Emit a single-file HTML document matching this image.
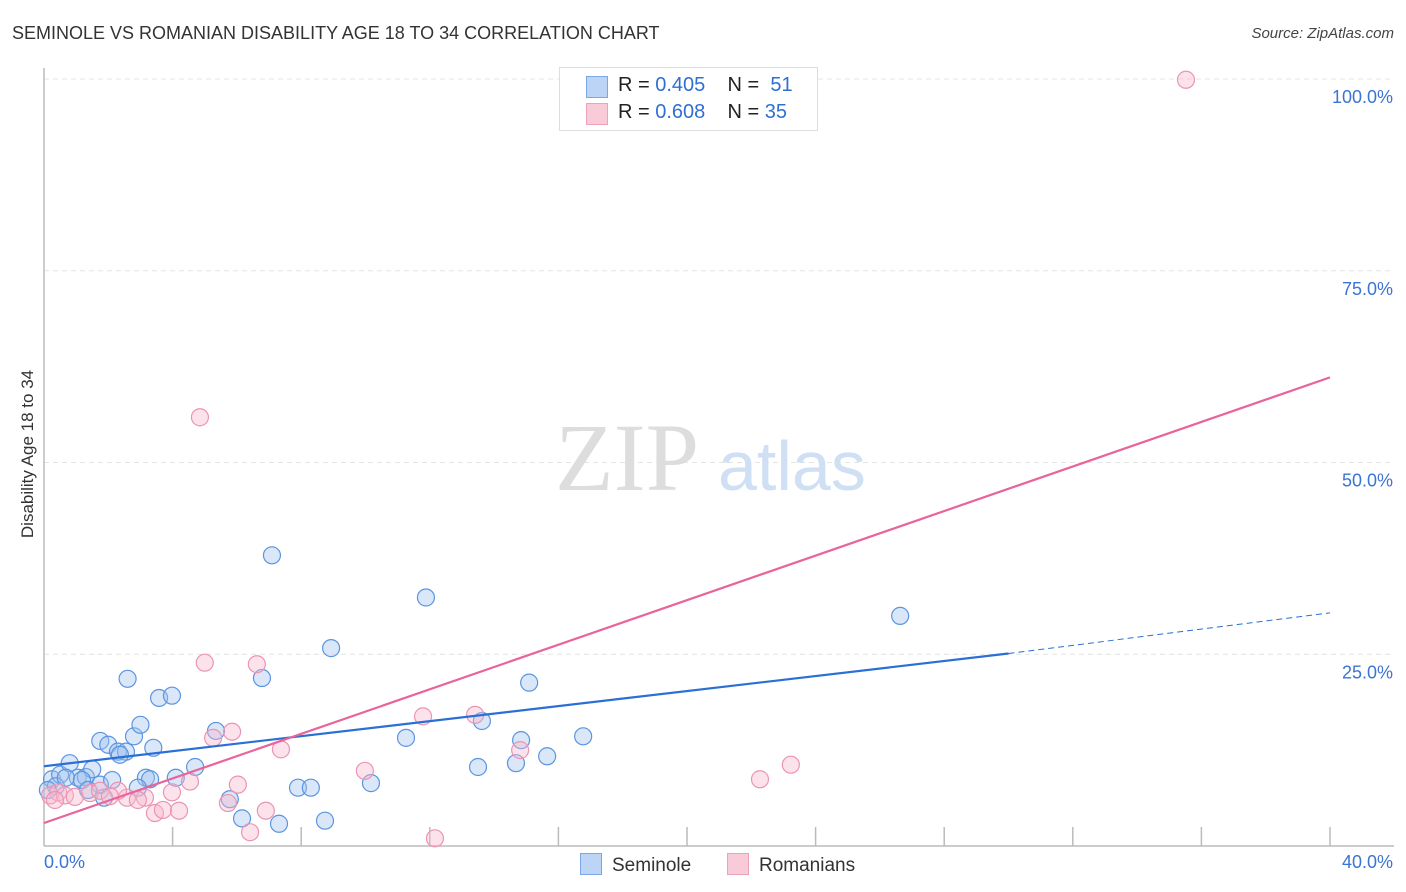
<!DOCTYPE html>
<html><head><meta charset="utf-8"><style>
body{margin:0;background:#fff;font-family:"Liberation Sans",sans-serif;}
#wrap{position:relative;width:1406px;height:892px;overflow:hidden}
.t{position:absolute;white-space:nowrap}
</style></head><body>
<div id="wrap">
<div class="t" style="left:12px;top:23px;font-size:18px;color:#333">SEMINOLE VS ROMANIAN DISABILITY AGE 18 TO 34 CORRELATION CHART</div>
<div class="t" style="right:12px;top:25px;font-size:15px;color:#444;font-style:italic">Source: ZipAtlas.com</div>
<div class="t" style="left:-62px;top:444px;font-size:17px;color:#333;transform:rotate(-90deg);width:180px;text-align:center">Disability Age 18 to 34</div>
<svg id="svg" width="1406" height="892" style="position:absolute;left:0;top:0"></svg>
</div>
<script>
const seminoleX=[0.25,0.5,0.8,1.05,1.3,1.5,1.75,2.0,2.3,2.55,2.6,2.8,3.0,3.17,3.3,3.4,3.58,3.98,4.1,4.7,5.35,5.78,6.16,6.78,7.09,7.31,7.9,8.3,8.74,8.93,10.17,11.26,11.88,13.5,13.62,14.68,14.84,15.09,15.65,16.77,26.63,1.87,2.92,0.37,0.68,1.18,0.12,1.74,2.12,2.36,1.37];
const seminoleY=[8.7,9.3,10.8,8.9,9.0,10.0,13.7,13.2,12.3,12.3,21.8,14.3,15.8,8.9,8.7,12.8,19.3,19.6,8.9,10.3,15.0,6.1,3.6,21.9,37.9,2.9,7.6,7.6,3.3,25.8,8.2,14.1,32.4,10.3,16.3,10.8,13.8,21.3,11.7,14.3,30.0,6.3,7.6,7.8,8.9,8.6,7.3,8.0,8.6,11.9,7.3];
const romX=[35.52,4.85,5.0,6.62,5.85,5.26,7.37,11.79,13.41,14.81,9.98,6.03,4.54,3.98,3.14,2.58,2.92,3.45,3.7,4.2,5.72,6.41,6.9,12.16,22.27,23.23,0.19,0.44,0.65,0.96,1.43,1.74,2.3,2.05,0.34];
const romY=[99.9,55.9,23.9,23.7,14.9,14.1,12.6,16.9,17.1,12.5,9.8,8.0,8.4,7.0,6.3,6.3,6.0,4.3,4.7,4.6,5.6,1.8,4.6,1.0,8.7,10.6,6.6,7.0,6.6,6.4,6.9,7.2,7.2,6.5,6.0];
const blueLine=[[0,10.4],[30.0,25.1]], blueDash=[[30.0,25.1],[40,30.4]], pinkLine=[[0,3.0],[40,61.1]];
const yTicks=[25,50,75,100], yTickLabels=["25.0%","50.0%","75.0%","100.0%"];
const X=v=>44+v*32.15, Y=v=>846-v*7.67;
const svg=document.getElementById('svg'), NS='http://www.w3.org/2000/svg';
function mk(tag,a,parent){const e=document.createElementNS(NS,tag);for(const k in a)e.setAttribute(k,a[k]);(parent||svg).appendChild(e);return e;}
yTicks.forEach((t,i)=>{
 const g=mk('line',{x1:44,x2:1394,y1:Y(t),y2:Y(t),stroke:'#e4e4e4','stroke-dasharray':'5,4'});
 
 
 const tx=mk('text',{x:1393,y:Y(t)+24,'text-anchor':'end','font-size':18,fill:'#3b74d4','font-family':'Liberation Sans'});
 tx.textContent=yTickLabels[i];
 
 
});
let ax=mk('line',{x1:44,x2:44,y1:68,y2:846,stroke:'#bbb','stroke-width':1.5});


ax=mk('line',{x1:44,x2:1394,y1:846,y2:846,stroke:'#bbb','stroke-width':1.5});


for(let i=1;i<=10;i++){const tk=mk('line',{x1:X(i*4),x2:X(i*4),y1:827,y2:846,stroke:'#bbb','stroke-width':1.5});
 
 }
let wm=mk('text',{x:555,y:490,'font-size':96,fill:'#ddd','font-family':'Liberation Serif'});wm.textContent='ZIP';


wm=mk('text',{x:718,y:490,'font-size':70,fill:'#cfe0f5','font-family':'Liberation Sans'});wm.textContent='atlas';


seminoleX.forEach((v,i)=>{const c=mk('circle',{cx:X(v),cy:Y(seminoleY[i]),r:8.5,fill:'rgba(160,196,240,0.4)',stroke:'#5b95e0','stroke-width':1.2});
 
 });
romX.forEach((v,i)=>{const c=mk('circle',{cx:X(v),cy:Y(romY[i]),r:8.5,fill:'rgba(248,185,205,0.4)',stroke:'#ec94b2','stroke-width':1.2});
 
 });
let l=mk('line',{x1:X(blueLine[0][0]),y1:Y(blueLine[0][1]),x2:X(blueLine[1][0]),y2:Y(blueLine[1][1]),stroke:'#2a6fd6','stroke-width':2.2});


l=mk('line',{x1:X(blueDash[0][0]),y1:Y(blueDash[0][1]),x2:X(blueDash[1][0]),y2:Y(blueDash[1][1]),stroke:'#2a6fd6','stroke-width':1,'stroke-dasharray':'6,4'});


l=mk('line',{x1:X(pinkLine[0][0]),y1:Y(pinkLine[0][1]),x2:X(pinkLine[1][0]),y2:Y(pinkLine[1][1]),stroke:'#e8649a','stroke-width':2.2});


</script>
<div class="t" style="left:44px;top:852px;font-size:18px;color:#3b74d4">0.0%</div>
<div class="t" style="right:13px;top:852px;font-size:18px;color:#3b74d4">40.0%</div>
<div style="position:absolute;left:559px;top:67px;width:257px;height:62px;border:1px solid #ddd;background:#fff;font-size:20px;color:#222">
 <div style="position:absolute;left:26px;top:8px;width:20px;height:20px;background:#bcd5f6;border:1px solid #7aa7e6"></div>
 <div class="t" style="left:58px;top:6px">R = <span style="color:#2f6fd3">0.405</span>&nbsp;&nbsp;&nbsp;&nbsp;N = &nbsp;<span style="color:#2f6fd3">51</span></div>
 <div style="position:absolute;left:26px;top:35px;width:20px;height:20px;background:#f9cbd9;border:1px solid #eba2bb"></div>
 <div class="t" style="left:58px;top:33px">R = <span style="color:#2f6fd3">0.608</span>&nbsp;&nbsp;&nbsp;&nbsp;N = <span style="color:#2f6fd3">35</span></div>
</div>
<div style="position:absolute;left:580px;top:853px;font-size:19px;color:#333">
 <span style="display:inline-block;width:20px;height:20px;background:#bcd5f6;border:1px solid #7aa7e6;vertical-align:-4px;margin-right:10px"></span>Seminole</div>
<div style="position:absolute;left:727px;top:853px;font-size:19px;color:#333">
 <span style="display:inline-block;width:20px;height:20px;background:#f9cbd9;border:1px solid #eba2bb;vertical-align:-4px;margin-right:10px"></span>Romanians</div>
</body></html>
